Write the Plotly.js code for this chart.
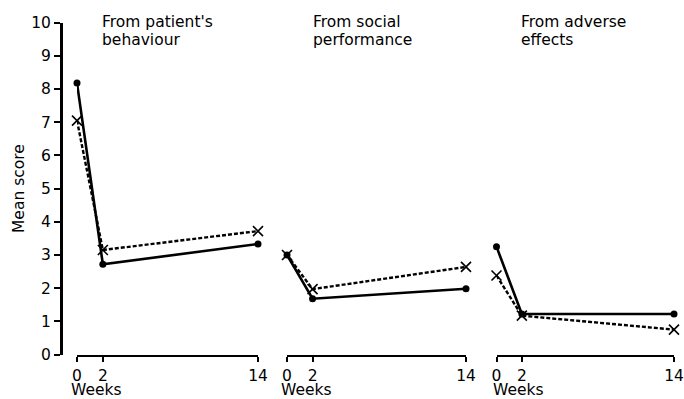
<!DOCTYPE html>
<html>
<head>
<meta charset="utf-8">
<script src="https://cdn.plot.ly/plotly-3.0.1.min.js"></script>
<style>html,body{margin:0;padding:0;background:#fff;}#chart{width:684px;height:399px;}</style>
</head>
<body>
<div id="chart"></div>
<script>
// Data
const weeks = [0, 2, 14];
const panelTitles = [["From patient's", "behaviour"], ["From social", "performance"], ["From adverse", "effects"]];
const solidBehaviour = [8.18, 2.72, 3.33];
const dashedBehaviour = [7.05, 3.15, 3.72];
const solidSocial = [3.0, 1.68, 1.98];
const dashedSocial = [3.0, 1.97, 2.64];
const solidAdverse = [3.25, 1.22, 1.22];
const dashedAdverse = [2.38, 1.17, 0.75];
const yTickVals = [0,1,2,3,4,5,6,7,8,9,10];
const xTickLabels = ["0", "2", "14"];

const FONT = "'DejaVu Sans', sans-serif";
const FS = 15.5;
const W = 684, H = 399;
const px = v => v / W;
const py = v => 1 - v / H;

const solidSets = [solidBehaviour, solidSocial, solidAdverse];
const dashedSets = [dashedBehaviour, dashedSocial, dashedAdverse];
const axisIds = ['x', 'x2', 'x3'];

const traces = [];
for (let i = 0; i < 3; i++) {
  traces.push({
    x: weeks, y: dashedSets[i], xaxis: axisIds[i], yaxis: 'y',
    mode: 'lines+markers', cliponaxis: false, showlegend: false,
    line: {color: '#000', width: 2.4, dash: '4px,2px'},
    marker: {symbol: 'x-thin-open', size: 10, color: '#000', line: {color: '#000', width: 1.6}}
  });
  traces.push({
    x: weeks, y: solidSets[i], xaxis: axisIds[i], yaxis: 'y',
    mode: 'lines+markers', cliponaxis: false, showlegend: false,
    line: {color: '#000', width: 2.6},
    marker: {symbol: 'circle', size: 7, color: '#000'}
  });
}

const xDomains = [[77, 258], [287, 466], [496.5, 674]];
const xAxisY = py(355.5);

function xaxis(d) {
  return {
    domain: [px(d[0]), px(d[1])], range: [0, 14], anchor: 'free', position: xAxisY,
    showgrid: false, zeroline: false, showline: true, linecolor: '#000', linewidth: 2.5,
    tickmode: 'array', tickvals: weeks, ticktext: xTickLabels,
    ticks: 'outside', ticklen: 5, tickwidth: 2, tickcolor: '#000', ticklabeloverflow: 'allow',
    tickfont: {family: FONT, size: FS, color: '#000'}, fixedrange: true
  };
}

const annotations = [];
const titleX = [100, 311, 519];
for (let i = 0; i < 3; i++) {
  annotations.push({xref: 'paper', yref: 'paper', x: px(titleX[i]), y: py(22.5), xanchor: 'left', yanchor: 'middle',
    text: panelTitles[i][0], showarrow: false, font: {family: FONT, size: FS, color: '#000'}});
  annotations.push({xref: 'paper', yref: 'paper', x: px(titleX[i]), y: py(40), xanchor: 'left', yanchor: 'middle',
    text: panelTitles[i][1], showarrow: false, font: {family: FONT, size: FS, color: '#000'}});
}
const weeksX = [70, 280, 492];
for (let i = 0; i < 3; i++) {
  annotations.push({xref: 'paper', yref: 'paper', x: px(weeksX[i]), y: py(389.5), xanchor: 'left', yanchor: 'middle',
    text: 'Weeks', showarrow: false, borderpad: 0, font: {family: FONT, size: FS, color: '#000'}});
}
annotations.push({xref: 'paper', yref: 'paper', x: px(19), y: py(189), xanchor: 'center', yanchor: 'middle',
  text: 'Mean score', textangle: -90, showarrow: false, font: {family: FONT, size: FS, color: '#000'}});

const layout = {
  width: W, height: H,
  margin: {l: 0, r: 0, t: 0, b: 0, pad: 0},
  paper_bgcolor: '#fff', plot_bgcolor: 'rgba(0,0,0,0)',
  showlegend: false,
  xaxis: xaxis(xDomains[0]),
  xaxis2: xaxis(xDomains[1]),
  xaxis3: xaxis(xDomains[2]),
  yaxis: {
    domain: [py(354.5), py(22.7)], range: [0, 10], anchor: 'free', position: px(61),
    showgrid: false, zeroline: false, showline: true, linecolor: '#000', linewidth: 2.5,
    tickmode: 'array', tickvals: yTickVals,
    ticks: 'outside', ticklen: 6, tickwidth: 2, tickcolor: '#000',
    tickfont: {family: FONT, size: FS, color: '#000'}, fixedrange: true
  },
  annotations: annotations
};

Plotly.newPlot('chart', traces, layout, {staticPlot: true, displayModeBar: false});
</script>
</body>
</html>
